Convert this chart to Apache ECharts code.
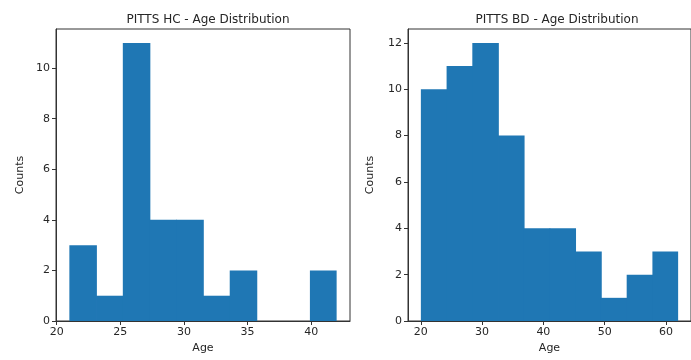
<!DOCTYPE html>
<html><head><meta charset="utf-8">
<script src="https://cdn.jsdelivr.net/npm/echarts@6/dist/echarts.min.js"></script>
<style>html,body{margin:0;padding:0;background:#fff}#c{width:691px;height:360px}</style>
</head><body><div id="c"></div>
<script>
// Left: PITTS HC
const hcTitle = 'PITTS HC - Age Distribution';
const hcEdges = [21.0, 23.1, 25.2, 27.3, 29.4, 31.5, 33.6, 35.7, 37.8, 39.9, 42.0];
const hcCounts = [3, 1, 11, 4, 4, 1, 2, 0, 0, 2];
const hcXTicks = [20, 25, 30, 35, 40];
const hcYTicks = [0, 2, 4, 6, 8, 10];
// Right: PITTS BD
const bdTitle = 'PITTS BD - Age Distribution';
const bdEdges = [20.0, 24.2, 28.4, 32.6, 36.8, 41.0, 45.2, 49.4, 53.6, 57.8, 62.0];
const bdCounts = [10, 11, 12, 8, 4, 4, 3, 1, 2, 3];
const bdXTicks = [20, 30, 40, 50, 60];
const bdYTicks = [0, 2, 4, 6, 8, 10, 12];

const FONT = 'DejaVu Sans';
const TXT = '#262626';

function bins(edges, counts) {
  return counts.map((c, i) => [edges[i], edges[i + 1], c]);
}
function pad(lo, hi) { const m = (hi - lo) * 0.05; return [lo - m, hi + m]; }

function xAxis(idx, edges, ticks) {
  const [mn, mx] = pad(edges[0], edges[edges.length - 1]);
  return {
    type: 'value', gridIndex: idx, min: mn, max: mx,
    name: 'Age', nameLocation: 'middle', nameGap: 22,
    nameTextStyle: { fontFamily: FONT, fontSize: 11, color: TXT },
    splitLine: { show: false },
    axisLine: { show: true, onZero: false, lineStyle: { color: '#333', width: 1 } },
    axisTick: { show: true, length: 4, customValues: ticks, lineStyle: { color: '#333' } },
    axisLabel: { customValues: ticks, fontFamily: FONT, fontSize: 11, color: TXT, margin: 6 }
  };
}
function yAxis(idx, counts, ticks) {
  const mx = Math.max(...counts) * 1.05;
  return {
    type: 'value', gridIndex: idx, min: 0, max: mx,
    name: 'Counts', nameLocation: 'middle', nameGap: idx === 0 ? 30 : 32,
    nameTextStyle: { fontFamily: FONT, fontSize: 11, color: TXT },
    splitLine: { show: false },
    axisLine: { show: true, lineStyle: { color: '#333', width: 1 } },
    axisTick: { show: true, length: 4, customValues: ticks, lineStyle: { color: '#333' } },
    axisLabel: { customValues: ticks, fontFamily: FONT, fontSize: 11, color: TXT, margin: 6 }
  };
}
function histSeries(idx, edges, counts) {
  return {
    type: 'custom', xAxisIndex: idx, yAxisIndex: idx,
    data: bins(edges, counts),
    encode: { x: [0, 1], y: 2 },
    renderItem: function (params, api) {
      if (api.value(2) <= 0) return null;
      const p0 = api.coord([api.value(0), 0]);
      const p1 = api.coord([api.value(1), api.value(2)]);
      const last = params.dataIndex === params.dataInsideLength - 1;
      return {
        type: 'rect',
        shape: { x: p0[0], y: p1[1], width: p1[0] - p0[0] + (last ? 0 : 0.8), height: p0[1] - p1[1] },
        style: { fill: '#1f77b4' }
      };
    }
  };
}

const chart = echarts.init(document.getElementById('c'), null, { renderer: 'canvas' });
chart.setOption({
  animation: false,
  backgroundColor: '#fff',
  title: [
    { text: hcTitle, left: 203, top: 9, textAlign: 'center',
      textStyle: { fontFamily: FONT, fontSize: 12, fontWeight: 'normal', color: TXT } },
    { text: bdTitle, left: 552, top: 9, textAlign: 'center',
      textStyle: { fontFamily: FONT, fontSize: 12, fontWeight: 'normal', color: TXT } }
  ],
  grid: [
    { left: 56, top: 29, width: 294, height: 292, show: true, borderColor: '#333', borderWidth: 1, backgroundColor: 'transparent' },
    { left: 408, top: 29, width: 291, height: 292, show: true, borderColor: '#333', borderWidth: 1, backgroundColor: 'transparent' }
  ],
  xAxis: [xAxis(0, hcEdges, hcXTicks), xAxis(1, bdEdges, bdXTicks)],
  yAxis: [yAxis(0, hcCounts, hcYTicks), yAxis(1, bdCounts, bdYTicks)],
  series: [histSeries(0, hcEdges, hcCounts), histSeries(1, bdEdges, bdCounts)]
});
</script></body></html>
